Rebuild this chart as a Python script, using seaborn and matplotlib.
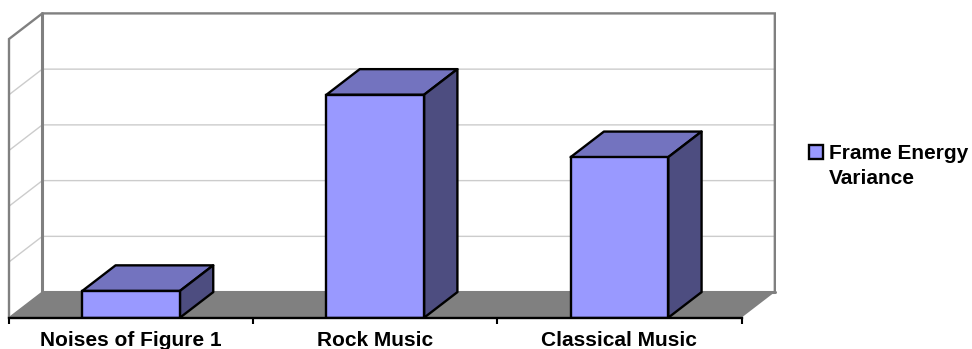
import matplotlib
matplotlib.use("Agg")
import matplotlib.pyplot as plt
import pandas as pd
import seaborn as sns
from matplotlib.legend_handler import HandlerPatch
from matplotlib.patches import Rectangle
from matplotlib.ticker import FixedLocator, NullFormatter

categories = ["Noises of Figure 1", "Rock Music", "Classical Music"]
frame_energy_variance = [0.48, 4.0, 2.88]
series_name = "Frame Energy\nVariance"
y_gridlines = [1, 2, 3, 4]

Y_MAX = 5
DEPTH_X = 33.3 / 244   # perspective shift, category units
DEPTH_Y = 25.6 / 55.74 # perspective shift, value units
BAR_WIDTH = 0.4
FRONT, TOP, SIDE = "#9999FF", "#7373BF", "#4D4D80"
WALL, GRID = "#808080", "#CCCCCC"
EDGE_LW = 1.7

sns.set_theme(style="white")
plt.rcParams["font.family"] = ["Liberation Sans", "DejaVu Sans"]

W, H = 972, 349
fig = plt.figure(figsize=(W / 100, H / 100), dpi=100, facecolor="white")
ax = fig.add_axes([9 / W, (H - 317.7) / H, (741.5 - 9) / W, 278.7 / H])

df = pd.DataFrame({"category": categories,
                   "value": frame_energy_variance,
                   "series": series_name})
sns.barplot(data=df, x="category", y="value", hue="series", palette=[FRONT],
            saturation=1, width=BAR_WIDTH, dodge=False, edgecolor="black",
            linewidth=EDGE_LW, ax=ax, zorder=5)

x0, x1 = -0.5, 2.5
ax.set_xlim(x0, x1)
ax.set_ylim(0, Y_MAX)

def poly(xs, ys, **kw):
    ax.fill(xs, ys, clip_on=False, **kw)

# Floor and walls
poly([x0, x1, x1 + DEPTH_X, x0 + DEPTH_X], [0, 0, DEPTH_Y, DEPTH_Y],
     facecolor=WALL, edgecolor="none", zorder=1)
for v in y_gridlines:
    ax.plot([x0, x0 + DEPTH_X, x1 + DEPTH_X], [v, v + DEPTH_Y, v + DEPTH_Y],
            color=GRID, lw=1.0, clip_on=False, zorder=1.5)
ax.plot([x0, x0, x0 + DEPTH_X, x1 + DEPTH_X, x1 + DEPTH_X],
        [0, Y_MAX, Y_MAX + DEPTH_Y, Y_MAX + DEPTH_Y, DEPTH_Y],
        color=WALL, lw=1.7, clip_on=False, zorder=2, solid_joinstyle="miter")
ax.plot([x0 + DEPTH_X, x0 + DEPTH_X, x1 + DEPTH_X],
        [Y_MAX + DEPTH_Y, DEPTH_Y, DEPTH_Y],
        color=WALL, lw=2.2, clip_on=False, zorder=2)
ax.plot([x0, x0 + DEPTH_X], [0, DEPTH_Y], color=WALL, lw=1.0, clip_on=False, zorder=2)

# Bar depth faces, built from the same values
for i, v in enumerate(frame_energy_variance):
    l, r = i - BAR_WIDTH / 2, i + BAR_WIDTH / 2
    poly([l, r, r + DEPTH_X, l + DEPTH_X], [v, v, v + DEPTH_Y, v + DEPTH_Y],
         facecolor=TOP, edgecolor="black", linewidth=EDGE_LW, zorder=4, joinstyle="round")
    poly([r, r + DEPTH_X, r + DEPTH_X, r], [0, DEPTH_Y, v + DEPTH_Y, v],
         facecolor=SIDE, edgecolor="black", linewidth=EDGE_LW, zorder=4, joinstyle="round")

# Axes furniture
for name in ("top", "right", "left"):
    ax.spines[name].set_visible(False)
ax.spines["bottom"].set_color("black")
ax.spines["bottom"].set_linewidth(1.7)
ax.spines["bottom"].set_zorder(6)
ax.set_xlabel("")
ax.set_ylabel("")
ax.set_yticks([])
ax.grid(False)
ax.patch.set_alpha(0)
ax.xaxis.set_minor_locator(FixedLocator([x0, 0.5, 1.5, x1]))
ax.xaxis.set_minor_formatter(NullFormatter())
ax.tick_params(axis="x", which="minor", bottom=True, length=4, width=1.5, color="black")
ax.tick_params(axis="x", which="major", bottom=False, length=0, pad=9.5)
for t in ax.get_xticklabels():
    t.set_fontsize(15)
    t.set_fontweight("bold")
    t.set_color("black")

# Legend: the swatch sits beside the first line of the two-line label
def raised_swatch(legend, orig_handle, xdescent, ydescent, width, height, fontsize):
    return Rectangle((-xdescent, -ydescent + 10.3), width, height)

handles, labels = ax.get_legend_handles_labels()
leg = ax.legend(handles, labels, loc="upper left", frameon=False,
                bbox_to_anchor=(809 / W, (H - 144.5) / H), bbox_transform=fig.transFigure,
                prop={"weight": "bold", "size": 15, "family": "Liberation Sans"},
                labelcolor="black",
                handlelength=0.67, handleheight=0.625, handletextpad=0.29,
                borderaxespad=0, borderpad=0,
                handler_map={Rectangle: HandlerPatch(patch_func=raised_swatch)})
leg.get_texts()[0].set_linespacing(1.35)
fig.savefig("out.png", dpi=100)
